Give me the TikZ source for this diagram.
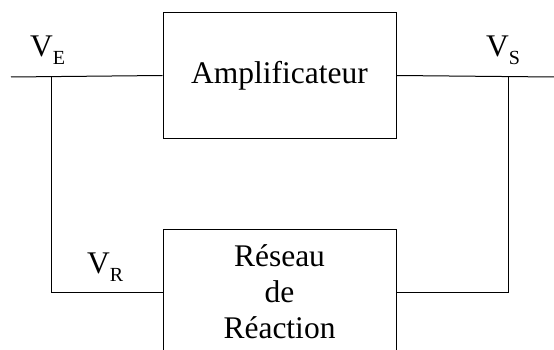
\documentclass[tikz,border=0pt]{standalone}
\usepackage{fontspec}
\setmainfont{Liberation Serif}
\usetikzlibrary{positioning}

\newcommand{\sbs}[1]{\raisebox{-8pt}{\fontsize{20}{20}\selectfont #1}}

\begin{document}
\begin{tikzpicture}[x=1pt,y=-1pt,
                    blockND/.style={rectangle,
                                    draw=black,
                                    line width=1pt,
                                    minimum width=233pt,
                                    minimum height=126pt,
                                    inner sep=0pt,
                                    align=center,
                                    font=\fontsize{31.5}{36}\selectfont},
                    labND/.style={anchor=base west,
                                  inner sep=0pt,
                                  font=\fontsize{31.5}{36}\selectfont},
                    wire/.style={line width=1pt}]
        \clip (0,0) rectangle (554,350);
        \node[blockND](amp)  at (279.5,75.5)  {Amplificateur};
        \node[blockND](reac) at (279.5,292) {R\'eseau\\de\\R\'eaction};
        \coordinate (in)  at (11,77);
        \coordinate (jE)  at (51,77);
        \coordinate (jS)  at (508,77);
        \coordinate (out) at (554,77);
        \node[labND](VE) at (30,57)  {V\sbs{E}};
        \node[labND](VS) at (486,57) {V\sbs{S}};
        \node[labND](VR) at (87,273) {V\sbs{R}};
        \draw[wire] (in) -- (amp.west);
        \draw[wire] (amp.east) -- (out);
        \draw[wire] (jE) |- (reac.west);
        \draw[wire] (jS) |- (reac.east);
    \end{tikzpicture}
\end{document}
